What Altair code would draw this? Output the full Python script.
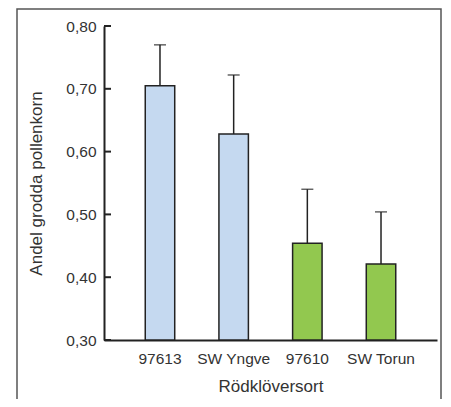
import altair as alt
import pandas as pd

sorts = ["97613", "SW Yngve", "97610", "SW Torun"]
means = [0.705, 0.628, 0.454, 0.421]
uppers = [0.770, 0.722, 0.540, 0.504]
groups = ["blue", "blue", "green", "green"]
tick_values = [0.30, 0.40, 0.50, 0.60, 0.70, 0.80]

df = pd.DataFrame({"sort": sorts, "mean": means, "upper": uppers, "grp": groups})
ticks_df = pd.DataFrame({"v": tick_values})
frame_df = pd.DataFrame({"a": [1]})

FONT = "Liberation Sans"
DARK = "#222222"

xscale = alt.Scale(domain=sorts, paddingInner=0.6, paddingOuter=0.56)
yscale = alt.Scale(domain=[0.3, 0.8], zero=False, nice=False)

x_enc = alt.X(
    "sort:N",
    scale=xscale,
    sort=sorts,
    title="Rödklöversort",
    axis=alt.Axis(
        labelAngle=0,
        ticks=False,
        domainColor=DARK,
        domainWidth=2,
        labelPadding=11,
        titlePadding=12,
        labelFontSize=15.5,
        titleFontSize=17,
        labelFont=FONT,
        titleFont=FONT,
        labelColor="#333333",
        titleColor="#333333",
        titleFontWeight="normal",
    ),
)

y_axis = alt.Axis(
    values=tick_values,
    ticks=False,
    domainColor=DARK,
    domainWidth=2,
    labelPadding=8,
    titlePadding=20,
    labelFontSize=15.5,
    titleFontSize=17,
    labelFont=FONT,
    titleFont=FONT,
    labelColor="#333333",
    titleColor="#333333",
    titleFontWeight="normal",
    grid=False,
    labelExpr="replace(format(datum.value, '.2f'), '.', ',')",
)

bars = alt.Chart(df).mark_bar(stroke=DARK, strokeWidth=1.5).encode(
    x=x_enc,
    y=alt.Y("mean:Q", scale=yscale, title="Andel grodda pollenkorn", axis=y_axis),
    y2=alt.datum(0.3),
    color=alt.Color(
        "grp:N",
        scale=alt.Scale(domain=["blue", "green"], range=["#c5d9f0", "#92c84f"]),
        legend=None,
    ),
)

err = alt.Chart(df).mark_rule(color=DARK, strokeWidth=1.5).encode(
    x=alt.X("sort:N", scale=xscale, sort=sorts),
    y=alt.Y("mean:Q", scale=yscale),
    y2="upper:Q",
)

caps = alt.Chart(df).mark_tick(color=DARK, thickness=1.5, size=12, orient="horizontal").encode(
    x=alt.X("sort:N", scale=xscale, sort=sorts),
    y=alt.Y("upper:Q", scale=yscale),
)

yticks = alt.Chart(ticks_df).mark_rule(color=DARK, strokeWidth=2).encode(
    y=alt.Y("v:Q", scale=yscale),
    x=alt.value(0),
    x2=alt.value(7),
)

frame = alt.Chart(frame_df).mark_rect(fill=None, stroke="#555555", strokeWidth=1.5).encode(
    x=alt.value(-87),
    x2=alt.value(337),
    y=alt.value(-17),
    y2=alt.value(420),
)

chart = alt.layer(frame, bars, err, caps, yticks).properties(
    width=333,
    height=314,
    autosize="none",
    padding={"left": 96, "top": 18, "right": 6, "bottom": 59},
).configure_view(stroke=None)

chart.save("out.html", embed_options={"renderer": "svg", "actions": False})
